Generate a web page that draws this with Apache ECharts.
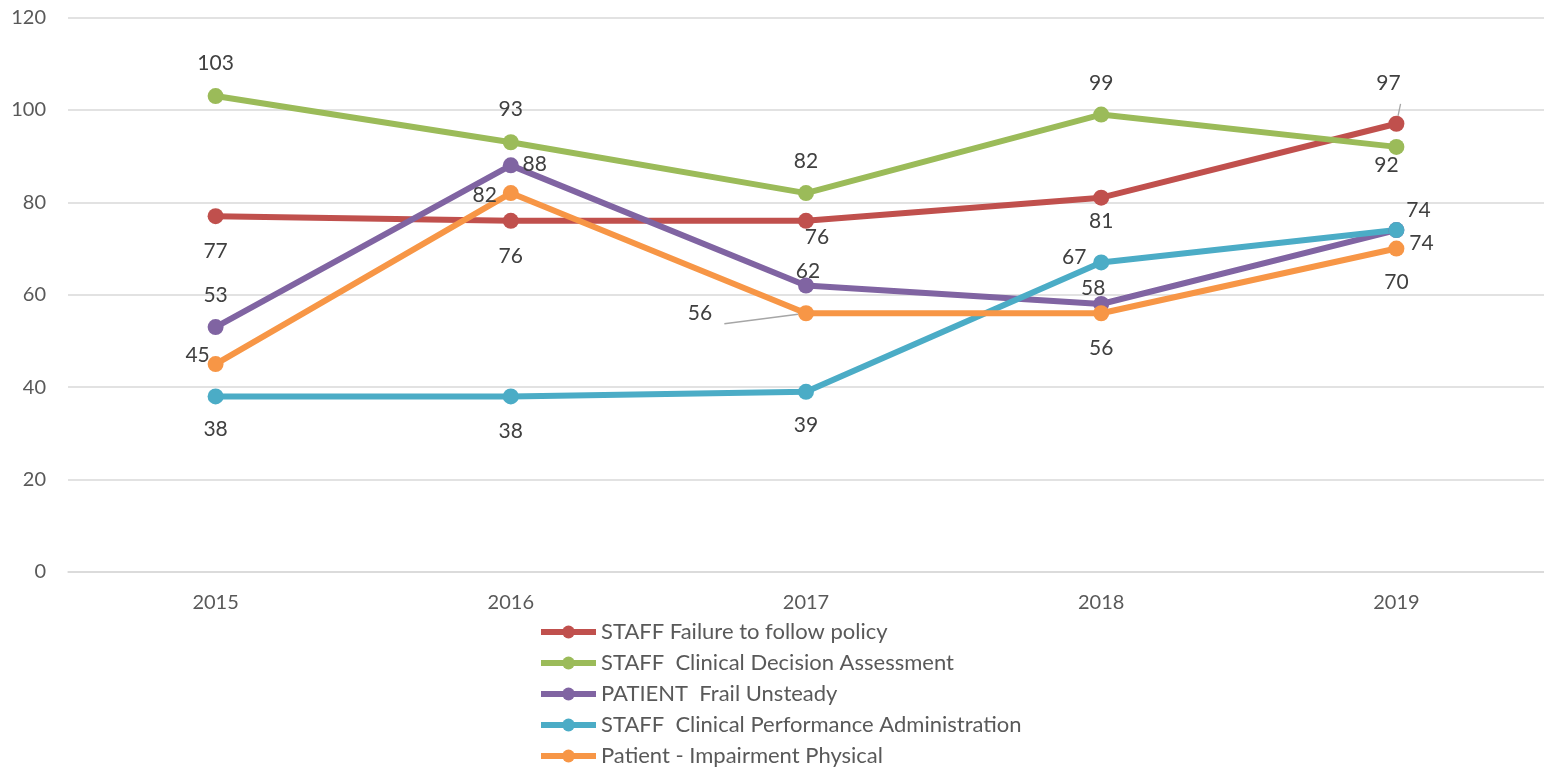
<!DOCTYPE html>
<html>
<head>
<meta charset="utf-8">
<script src="https://cdn.jsdelivr.net/npm/echarts@6/dist/echarts.min.js"></script>
<style>
  html, body { margin: 0; padding: 0; background: #fff; }
  #chart { width: 1544px; height: 771px; }
</style>
</head>
<body>
<div id="chart"></div>
<script>
// categories and values
const years = ['2015', '2016', '2017', '2018', '2019'];
const yTicks = [0, 20, 40, 60, 80, 100, 120];

const seriesNames = [
  'STAFF Failure to follow policy',
  'STAFF  Clinical Decision Assessment',
  'PATIENT  Frail Unsteady',
  'STAFF  Clinical Performance Administration',
  'Patient - Impairment Physical'
];
const failurePolicy = [77, 76, 76, 81, 97];
const decisionAssessment = [103, 93, 82, 99, 92];
const frailUnsteady = [53, 88, 62, 58, 74];
const performanceAdmin = [38, 38, 39, 67, 74];
const impairmentPhysical = [45, 82, 56, 56, 70];

const colors = ['#C0504D', '#9BBB59', '#8064A2', '#4BACC6', '#F79646'];

// where each data label sits relative to its point (px)
const labelOffsets = [
  [[0, 35], [0, 35], [11, 16], [0, 24], [-8, -41]],
  [[0, -33], [0, -33], [0, -32], [0, -31], [-10, 18]],
  [[0, -32], [24, -1], [2, -14], [-8, -16], [25, 13]],
  [[0, 33], [0, 35], [0, 33], [-27, -5], [22, -20]],
  [[-18, -9], [-26, 2], [-106, 0], [0, 35], [0, 34]]
];
// labels that get a leader line: [series, point]
const leaderLines = [[0, 4], [4, 2]];

const allValues = [failurePolicy, decisionAssessment, frailUnsteady, performanceAdmin, impairmentPhysical];

const font = 'Lato, "Noto Sans", sans-serif';

const series = allValues.map(function (vals, s) {
  return {
    name: seriesNames[s],
    type: 'line',
    symbol: 'circle',
    symbolSize: 16,
    color: colors[s],
    lineStyle: { width: 6, color: colors[s] },
    itemStyle: { color: colors[s] },
    label: {
      show: true,
      position: 'inside',
      color: '#404040',
      fontSize: 21,
      fontFamily: font
    },
    data: vals.map(function (v, i) {
      const hasLine = leaderLines.some(function (p) { return p[0] === s && p[1] === i; });
      return {
        value: v,
        label: { offset: labelOffsets[s][i] },
        labelLine: { show: hasLine, length2: 0, lineStyle: { color: '#a6a6a6', width: 1.3 } }
      };
    })
  };
});

const myChart = echarts.init(document.getElementById('chart'));
myChart.setOption({
  animation: false,
  grid: { left: 68, right: -11, top: 17.5, bottom: 199 },
  xAxis: {
    type: 'category',
    data: years,
    boundaryGap: true,
    axisLine: { lineStyle: { color: '#d9d9d9', width: 1.5 } },
    axisTick: { show: false },
    axisLabel: { color: '#595959', fontSize: 20, fontFamily: font, margin: 21 }
  },
  yAxis: {
    type: 'value',
    min: yTicks[0],
    max: yTicks[yTicks.length - 1],
    interval: 20,
    axisLine: { show: false },
    axisTick: { show: false },
    axisLabel: { color: '#595959', fontSize: 20, fontFamily: font, margin: 22 },
    splitLine: { lineStyle: { color: '#d9d9d9', width: 1.5 } }
  },
  legend: {
    orient: 'vertical',
    left: 538,
    top: 621,
    padding: 0,
    itemWidth: 55,
    itemHeight: 16,
    itemGap: 9,
    lineStyle: { width: 6 },
    textStyle: { color: '#595959', fontSize: 22, fontFamily: font },
    data: seriesNames
  },
  series: series
});
</script>
</body>
</html>
